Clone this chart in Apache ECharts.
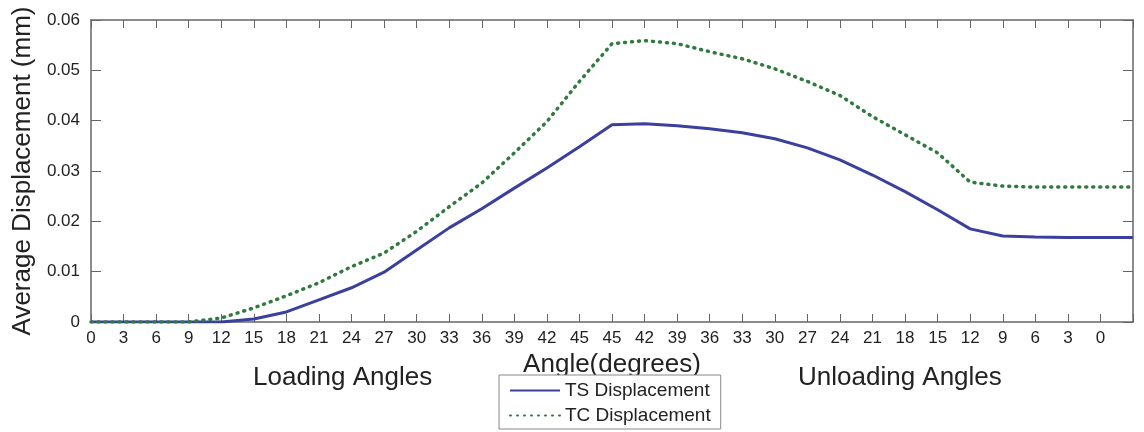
<!DOCTYPE html>
<html>
<head>
<meta charset="utf-8">
<script src="https://cdn.jsdelivr.net/npm/echarts@6/dist/echarts.min.js"></script>
<style>
html,body{margin:0;padding:0;background:#fff;}
#chart{width:1144px;height:432px;}
</style>
</head>
<body>
<div id="chart"></div>
<script>
// Tick labels along the x axis (index positions 0..32)
const tickLabels = ['0','3','6','9','12','15','18','21','24','27','30','33','36','39','42','45',
                    '45','42','39','36','33','30','27','24','21','18','15','12','9','6','3','0',''];
// Average displacement (mm) at each tick index
const tsDisplacement = [0,0,0,0,0,0.0006,0.002,0.0044,0.0068,0.0099,0.0143,0.0187,0.0225,0.0266,0.0306,0.0348,
                        0.0392,0.0394,0.039,0.0384,0.0376,0.0364,0.0346,0.0322,0.0292,0.0259,0.0223,0.0185,
                        0.0171,0.0169,0.0168,0.0168,0.0168];
const tcDisplacement = [0,0,0,0,0.0008,0.0028,0.0052,0.0078,0.011,0.0137,0.018,0.0229,0.0276,0.0336,0.0398,0.0478,
                        0.0553,0.0559,0.0553,0.0537,0.0523,0.0503,0.0478,0.045,0.0408,0.0372,0.0336,0.0278,
                        0.027,0.0268,0.0268,0.0268,0.0268];
const seriesNames = ['TS Displacement','TC Displacement'];
const yTicks = [0,0.01,0.02,0.03,0.04,0.05,0.06];

const FONT = '"Liberation Sans", Arial, sans-serif';
const axisCol = '#666';
const toPairs = arr => arr.map((v,i)=>[i,v]);

const chart = echarts.init(document.getElementById('chart'), null, {renderer:'canvas'});
const lastIdx = tickLabels.length - 1;
chart.setOption({
  backgroundColor:'#fff',
  animation:false,
  grid:{left:91,right:11,top:20,bottom:110,containLabel:false},
  xAxis:[{
    type:'value',min:0,max:lastIdx,interval:1,position:'bottom',
    name:'Angle(degrees)',nameLocation:'middle',nameGap:27,
    nameTextStyle:{fontFamily:FONT,fontSize:26,color:'#222'},
    axisLine:{show:true,onZero:false,lineStyle:{color:axisCol,width:1.5}},
    axisTick:{show:true,inside:true,length:8,lineStyle:{color:axisCol,width:1}},
    axisLabel:{fontFamily:FONT,fontSize:17,color:'#222',margin:8,
      formatter:v=>tickLabels[Math.round(v)] ?? ''},
    splitLine:{show:false}
  },{
    type:'value',min:0,max:lastIdx,interval:1,position:'top',
    axisLine:{show:true,onZero:false,lineStyle:{color:axisCol,width:1.5}},
    axisTick:{show:true,inside:true,length:8,lineStyle:{color:axisCol,width:1}},
    axisLabel:{show:false},splitLine:{show:false}
  }],
  yAxis:[{
    type:'value',min:yTicks[0],max:yTicks[yTicks.length-1],interval:0.01,position:'left',
    name:'Average Displacement (mm)',nameLocation:'middle',nameGap:50,nameRotate:90,
    nameTextStyle:{fontFamily:FONT,fontSize:26,color:'#222'},
    axisLine:{show:true,onZero:false,lineStyle:{color:axisCol,width:1.5}},
    axisTick:{show:true,inside:true,length:10,lineStyle:{color:axisCol,width:1}},
    axisLabel:{fontFamily:FONT,fontSize:17,color:'#222',margin:11,
      formatter:v=>v===0?'0':v.toFixed(2)},
    splitLine:{show:false}
  },{
    type:'value',min:yTicks[0],max:yTicks[yTicks.length-1],interval:0.01,position:'right',
    axisLine:{show:true,onZero:false,lineStyle:{color:axisCol,width:1.5}},
    axisTick:{show:true,inside:true,length:10,lineStyle:{color:axisCol,width:1}},
    axisLabel:{show:false},splitLine:{show:false}
  }],
  legend:{
    orient:'vertical',left:499,top:375,
    data:seriesNames,
    itemWidth:50,itemHeight:14,itemGap:6,
    padding:[6,10,4,10],
    borderColor:'#888',borderWidth:1,backgroundColor:'#fff',
    itemStyle:{opacity:0},
    textStyle:{fontFamily:FONT,fontSize:19,color:'#222'}
  },
  graphic:[
    {type:'text',left:253,top:365,style:{text:'Loading Angles',font:'26px "Liberation Sans", Arial, sans-serif',fill:'#222'}},
    {type:'text',left:798,top:365,style:{text:'Unloading Angles',font:'26px "Liberation Sans", Arial, sans-serif',fill:'#222'}}
  ],
  series:[{
    name:seriesNames[0],type:'line',xAxisIndex:0,yAxisIndex:0,
    data:toPairs(tsDisplacement),showSymbol:false,symbol:'none',
    lineStyle:{color:'#3b3f9e',width:3,type:'solid'},
    itemStyle:{color:'#3b3f9e'}
  },{
    name:seriesNames[1],type:'line',xAxisIndex:0,yAxisIndex:0,
    data:toPairs(tcDisplacement),showSymbol:false,symbol:'none',
    lineStyle:{color:'#2f7a3e',width:3.5,type:[1,6],cap:'round'},
    itemStyle:{color:'#2f7a3e'}
  }]
});
</script>
</body>
</html>
